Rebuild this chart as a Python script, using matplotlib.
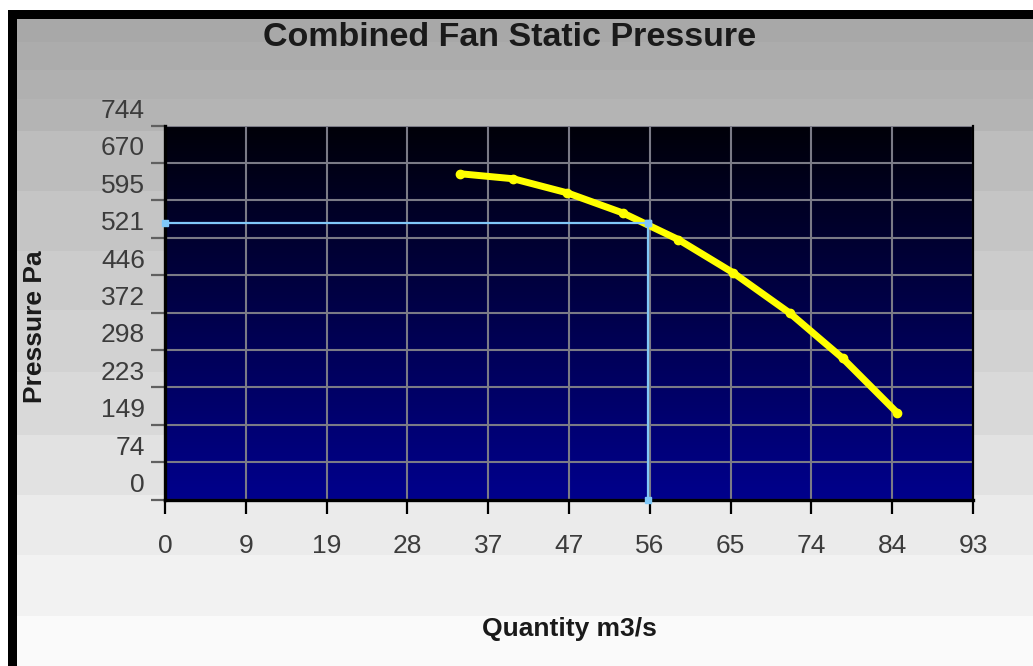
import numpy as np
import matplotlib
matplotlib.use("Agg")
import matplotlib.pyplot as plt
import matplotlib.transforms as mtransforms
from matplotlib.patches import Rectangle

# curve points
quantity = [34.0, 40.1, 46.3, 52.7, 59.1, 65.4, 71.9, 78.0, 84.3]
pressure = [648, 638, 610, 570, 517, 451, 371, 281, 172]

# operating point (light blue cross lines)
op_quantity = 55.6
op_pressure = 550

x_tick_labels = ["0", "9", "19", "28", "37", "47", "56", "65", "74", "84", "93"]
y_tick_labels = ["0", "74", "149", "223", "298", "372", "446", "521", "595", "670", "744"]
x_max = 93
y_max = 744

W, H = 1033, 666
plt.rcParams["font.family"] = ["Liberation Sans", "DejaVu Sans"]

fig = plt.figure(figsize=(W / 100, H / 100), dpi=100)
fig.patch.set_facecolor("white")

# stepped grey background bands (pixel rows from top)
band_edges = [19, 42, 70, 99, 131, 191, 251, 310, 372, 435, 495, 555, 616, 666]
band_greys = [168, 172, 176, 180, 189, 197, 204, 210, 217, 226, 235, 242, 250]
for top, bot, g in zip(band_edges[:-1], band_edges[1:], band_greys):
    c = (g / 255, g / 255, g / 255)
    fig.add_artist(Rectangle((17 / W, 1 - bot / H), 1 - 17 / W, (bot - top) / H,
                             transform=fig.transFigure, color=c, lw=0, zorder=-10))
# black frame top and left
fig.add_artist(Rectangle((8 / W, 1 - 19 / H), 1, 9 / H, transform=fig.transFigure,
                         color="black", lw=0, zorder=-9))
fig.add_artist(Rectangle((8 / W, 0), 9 / W, 1 - 10 / H, transform=fig.transFigure,
                         color="black", lw=0, zorder=-9))

left, right, top, bottom = 165, 973, 125.5, 499.5
ax = fig.add_axes([left / W, 1 - bottom / H, (right - left) / W, (bottom - top) / H])

# dark blue vertical gradient inside plot
grad = np.linspace(0, 1, 256).reshape(-1, 1)
cols = np.zeros((256, 1, 3))
cols[:, 0, 2] = (8 + grad[:, 0] * 132) / 255
ax.imshow(cols, extent=[0, x_max, 0, y_max], aspect="auto", origin="upper", zorder=0)

ax.set_xlim(0, x_max)
ax.set_ylim(0, y_max)

ax.set_xticks(np.linspace(0, x_max, len(x_tick_labels)))
ax.set_xticklabels(x_tick_labels)
ax.set_yticks(np.linspace(0, y_max, len(y_tick_labels)))
ax.set_yticklabels(y_tick_labels)
ax.grid(True, color="#7a7a86", lw=1.5)

ax.tick_params(axis="x", length=10, width=1.6, color="black", pad=15,
               labelsize=19, labelcolor="#3c3c3c")
ax.tick_params(axis="y", length=10, width=1.6, color="#606060", pad=4.5,
               labelsize=19, labelcolor="#3c3c3c")

# y labels sit half a step above their tick in the original
offset = mtransforms.ScaledTranslation(0, 17 / 100, fig.dpi_scale_trans)
for lbl in ax.get_yticklabels():
    lbl.set_transform(lbl.get_transform() + offset)

for side in ["left", "bottom"]:
    ax.spines[side].set_linewidth(2.4)
    ax.spines[side].set_color("black")
ax.spines["right"].set_linewidth(1.6)
ax.spines["right"].set_color("black")
ax.spines["top"].set_visible(False)

ax.plot(quantity, pressure, color="#ffff00", lw=5, marker="o", ms=6,
        solid_capstyle="round", zorder=5, clip_on=False)

ax.plot([0, op_quantity], [op_pressure, op_pressure], color="#80c8f8", lw=1.6,
        marker="s", ms=5, zorder=6, clip_on=False)
ax.plot([op_quantity, op_quantity], [op_pressure, 0], color="#80c8f8", lw=1.6,
        marker="s", ms=5, zorder=6, clip_on=False)

fig.text(510 / W, 1 - 37 / H, "Combined Fan Static Pressure", ha="center", va="center",
         fontsize=24.5, fontweight="bold", color="#1a1a1a")
fig.text(35 / W, 1 - 327 / H, "Pressure Pa", ha="center", va="center", rotation=90,
         fontsize=19, fontweight="bold", color="#1a1a1a")
fig.text(569 / W, 1 - 629 / H, "Quantity m3/s", ha="center", va="center",
         fontsize=19, fontweight="bold", color="#1a1a1a")

fig.savefig("out.png", dpi=100, facecolor=fig.get_facecolor())
